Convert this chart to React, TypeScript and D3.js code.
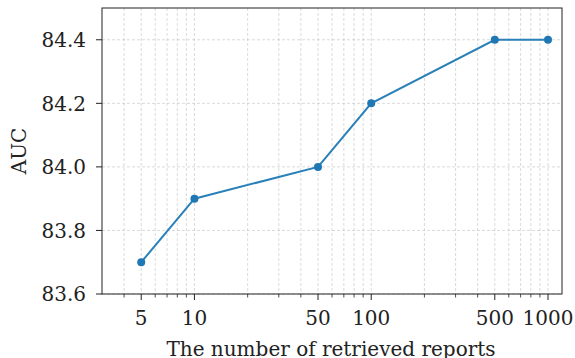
import React, { useRef, useEffect } from 'react';
import * as d3 from 'd3';

const retrieved = [5, 10, 50, 100, 500, 1000];
const auc = [83.7, 83.9, 84.0, 84.2, 84.4, 84.4];
const xTickValues = [5, 10, 50, 100, 500, 1000];
const yTickValues = [83.6, 83.8, 84.0, 84.2, 84.4];

const App = () => {
    const svgRef = useRef<SVGSVGElement>(null);

    useEffect(() => {
        const width = 575;
        const height = 358;
        const marginTop = 8;
        const marginRight = 13;
        const marginBottom = 64;
        const marginLeft = 102;
        const font = 'DejaVu Serif';
        const fontSize = 20;

        const svg = d3.select(svgRef.current)
            .attr('width', width)
            .attr('height', height)
            .attr('viewBox', `0 0 ${width} ${height}`);

        svg.selectAll('*').remove();

        const x = d3.scaleLog()
            .domain([3, 1200])
            .range([marginLeft, width - marginRight]);

        const y = d3.scaleLinear()
            .domain([83.6, 84.5])
            .range([height - marginBottom, marginTop]);

        // minor log ticks between 3 and 1200
        const minorTicks: number[] = [];
        [1, 10, 100, 1000].forEach(base => {
            for (let k = 2; k <= 9; k++) {
                const v = base * k;
                if (v > 3 && v < 1200 && !xTickValues.includes(v)) minorTicks.push(v);
            }
        });
        const allX = [...minorTicks, ...xTickValues];

        // grid
        const grid = svg.append('g')
            .attr('stroke', '#b0b0b0')
            .attr('stroke-opacity', 0.6)
            .attr('stroke-width', 0.8)
            .attr('stroke-dasharray', '3,2');
        grid.selectAll('line.vx')
            .data(allX)
            .join('line')
            .attr('x1', d => x(d))
            .attr('x2', d => x(d))
            .attr('y1', marginTop)
            .attr('y2', height - marginBottom);
        grid.selectAll('line.hy')
            .data(yTickValues)
            .join('line')
            .attr('x1', marginLeft)
            .attr('x2', width - marginRight)
            .attr('y1', d => y(d))
            .attr('y2', d => y(d));

        // x axis
        const xAxis = svg.append('g')
            .attr('transform', `translate(0,${height - marginBottom})`);
        xAxis.selectAll('line.minor')
            .data(minorTicks)
            .join('line')
            .attr('x1', d => x(d))
            .attr('x2', d => x(d))
            .attr('y1', 0)
            .attr('y2', 3.5)
            .attr('stroke', '#222')
            .attr('stroke-width', 0.8);
        xAxis.selectAll('line.major')
            .data(xTickValues)
            .join('line')
            .attr('x1', d => x(d))
            .attr('x2', d => x(d))
            .attr('y1', 0)
            .attr('y2', 6)
            .attr('stroke', '#222')
            .attr('stroke-width', 1);
        xAxis.selectAll('text')
            .data(xTickValues)
            .join('text')
            .attr('x', d => x(d))
            .attr('y', 31)
            .attr('text-anchor', 'middle')
            .attr('font-family', font)
            .attr('font-size', fontSize)
            .attr('fill', '#222')
            .text(d => String(d));

        // y axis
        const yAxis = svg.append('g');
        yAxis.selectAll('line')
            .data(yTickValues)
            .join('line')
            .attr('x1', marginLeft - 6)
            .attr('x2', marginLeft)
            .attr('y1', d => y(d))
            .attr('y2', d => y(d))
            .attr('stroke', '#222')
            .attr('stroke-width', 1);
        yAxis.selectAll('text')
            .data(yTickValues)
            .join('text')
            .attr('x', marginLeft - 16)
            .attr('y', d => y(d))
            .attr('dy', '0.36em')
            .attr('text-anchor', 'end')
            .attr('font-family', font)
            .attr('font-size', fontSize)
            .attr('fill', '#222')
            .text(d => d.toFixed(1));

        // frame
        svg.append('rect')
            .attr('x', marginLeft)
            .attr('y', marginTop)
            .attr('width', width - marginLeft - marginRight)
            .attr('height', height - marginTop - marginBottom)
            .attr('fill', 'none')
            .attr('stroke', '#222')
            .attr('stroke-width', 1);

        // labels
        svg.append('text')
            .attr('x', 331)
            .attr('y', 356)
            .attr('text-anchor', 'middle')
            .attr('font-family', font)
            .attr('font-size', fontSize)
            .attr('fill', '#222')
            .text('The number of retrieved reports');
        svg.append('text')
            .attr('transform', `translate(26,${(marginTop + height - marginBottom) / 2}) rotate(-90)`)
            .attr('text-anchor', 'middle')
            .attr('font-family', font)
            .attr('font-size', fontSize)
            .attr('fill', '#222')
            .text('AUC');

        // line + markers
        const pts = retrieved.map((r, i) => [r, auc[i]] as [number, number]);
        const line = d3.line<[number, number]>()
            .x(d => x(d[0]))
            .y(d => y(d[1]));
        svg.append('path')
            .datum(pts)
            .attr('fill', 'none')
            .attr('stroke', '#2a80b9')
            .attr('stroke-width', 2)
            .attr('d', line);
        svg.selectAll('circle')
            .data(pts)
            .join('circle')
            .attr('cx', d => x(d[0]))
            .attr('cy', d => y(d[1]))
            .attr('r', 4)
            .attr('fill', '#1f77b4');
    }, []);

    return (
        <svg ref={svgRef} style={{ position: 'absolute', left: 0, top: 0 }}></svg>
    );
};

export default App;
